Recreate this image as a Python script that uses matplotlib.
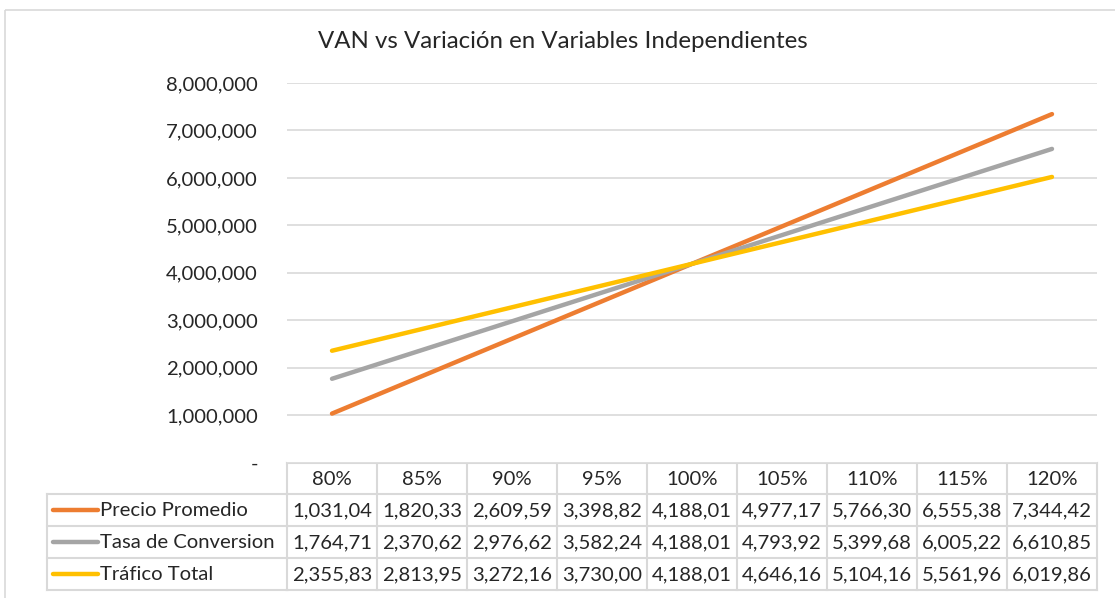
import numpy as np
import matplotlib.pyplot as plt
import matplotlib.transforms as mtransforms
from matplotlib.ticker import FuncFormatter

plt.rcParams['font.family'] = ['Lato', 'DejaVu Sans']

# VAN values in thousands, as shown in the data table
categorias = ['80%', '85%', '90%', '95%', '100%', '105%', '110%', '115%', '120%']
series_nombres = ['Precio Promedio', 'Tasa de Conversion', 'Tráfico Total']
precio_promedio = [1031.04, 1820.33, 2609.59, 3398.82, 4188.01, 4977.17, 5766.30, 6555.38, 7344.42]
tasa_conversion = [1764.71, 2370.62, 2976.62, 3582.24, 4188.01, 4793.92, 5399.68, 6005.22, 6610.85]
trafico_total = [2355.83, 2813.95, 3272.16, 3730.00, 4188.01, 4646.16, 5104.16, 5561.96, 6019.86]
colores = ['#ED7D31', '#A5A5A5', '#FFC000']

series = [precio_promedio, tasa_conversion, trafico_total]

W, H = 1115, 598
fs = 14.6
txt_col = '#262626'
fig = plt.figure(figsize=(W / 100, H / 100), dpi=100)

# overlay axes in pixel coordinates for frame and table
tab = fig.add_axes([0, 0, 1, 1])
tab.set_xlim(0, W)
tab.set_ylim(H, 0)
tab.axis('off')
tab.add_patch(plt.Rectangle((5, 10), W + 20, H + 20, fill=False, ec='#D9D9D9', lw=1.2))

left_px, right_px, top_px, bottom_px = 287, 1097, 83, 462.5
ax = fig.add_axes([left_px / W, (H - bottom_px) / H, (right_px - left_px) / W, (bottom_px - top_px) / H])

x = np.arange(len(categorias))
for vals, c in zip(series, colores):
    ax.plot(x, np.array(vals) * 1000, color=c, lw=3.2, solid_capstyle='round', zorder=3)

ax.set_xlim(-0.5, len(categorias) - 0.5)
ax.set_ylim(0, 8000000)
ax.set_yticks(np.arange(0, 8000001, 1000000))
ax.yaxis.set_major_formatter(FuncFormatter(lambda v, p: '-' if v == 0 else f'{v:,.0f}'))
ax.tick_params(axis='y', length=0, pad=21, labelsize=fs, labelcolor=txt_col)
ax.set_xticks([])
ax.grid(axis='y', color='#D9D9D9', lw=1.2)
for s in ax.spines.values():
    s.set_visible(False)

fig.text(563 / W, (H - 42) / H, 'VAN vs Variación en Variables Independientes',
         ha='center', va='center', fontsize=17.3, color=txt_col)

# data table under the plot
tr = mtransforms.blended_transform_factory(ax.transData, tab.transData)
row_edges = [462.5, 494, 526, 558, 590]
grid_col = '#D9D9D9'
n = len(categorias)
# vertical lines
for i in range(n + 1):
    tab.plot([i - 0.5, i - 0.5], [row_edges[0], row_edges[-1]], color=grid_col, lw=1.5,
             transform=tr, clip_on=False)
# horizontal lines over data columns
for y in row_edges:
    tab.plot([-0.5, n - 0.5], [y, y], color=grid_col, lw=1.5, transform=tr, clip_on=False)
# label column
for y in row_edges[1:]:
    tab.plot([47, left_px], [y, y], color=grid_col, lw=1.5, clip_on=False)
tab.plot([47, 47], [row_edges[1], row_edges[-1]], color=grid_col, lw=1.5, clip_on=False)

for i, cat in enumerate(categorias):
    tab.text(i, (row_edges[0] + row_edges[1]) / 2 + 1, cat, transform=tr, ha='center', va='center',
             fontsize=fs, color=txt_col)

for r, (nombre, vals, c) in enumerate(zip(series_nombres, series, colores)):
    yc = (row_edges[r + 1] + row_edges[r + 2]) / 2 + 1
    tab.plot([53, 98], [yc - 1, yc - 1], color=c, lw=3.2, solid_capstyle='round')
    tab.text(100, yc, nombre, ha='left', va='center', fontsize=fs, color=txt_col)
    for i, v in enumerate(vals):
        txt = f'{v:,.2f}'.replace('.', ',')
        tab.text(i, yc, txt, transform=tr, ha='center', va='center', fontsize=fs, color=txt_col)

fig.savefig('out.png', dpi=100)
